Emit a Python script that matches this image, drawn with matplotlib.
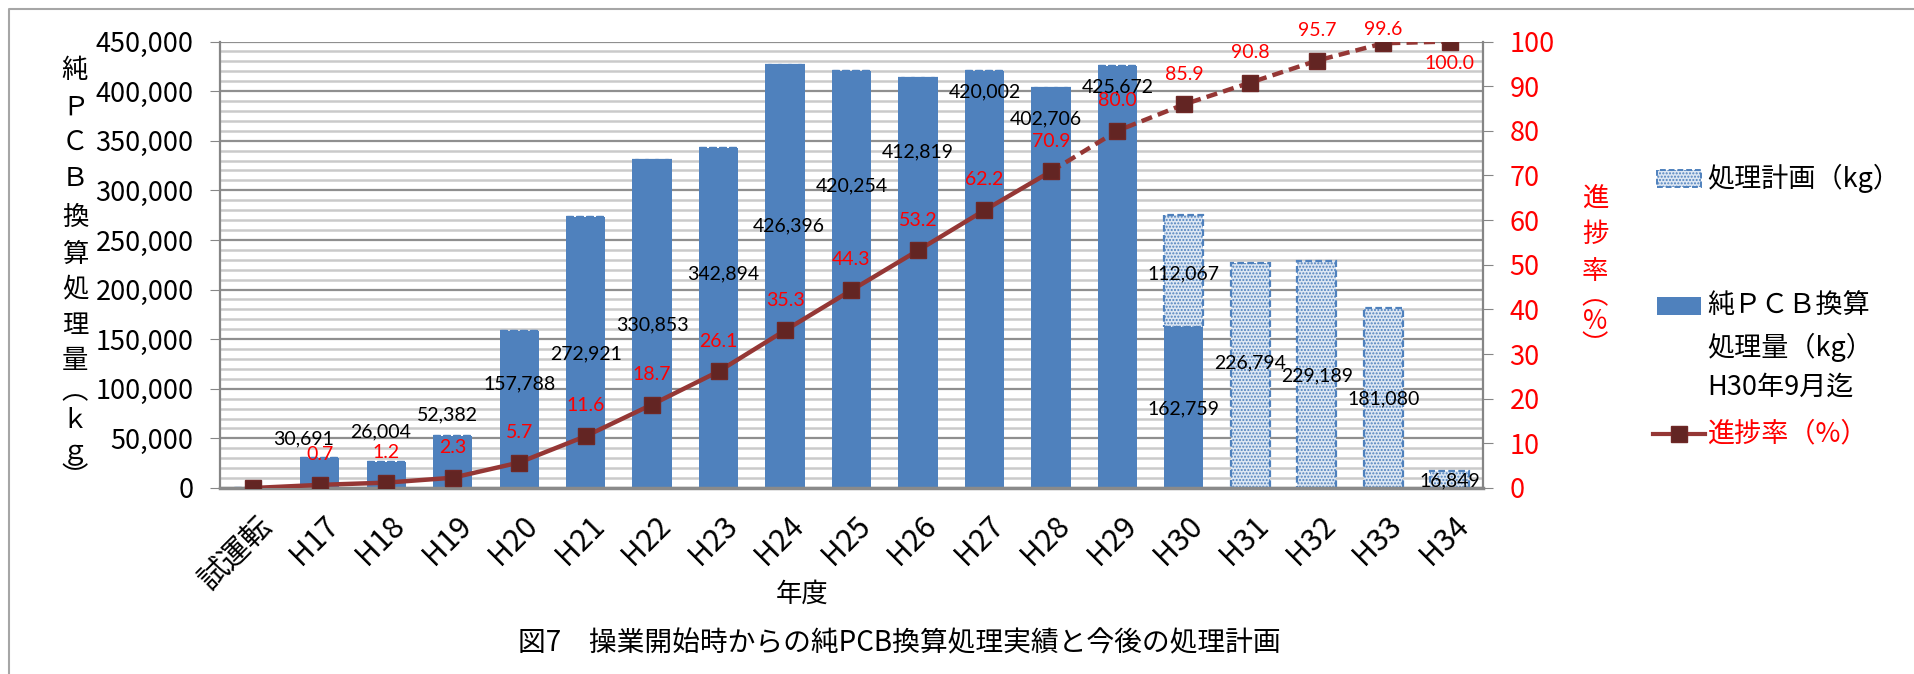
import numpy as np
import matplotlib
matplotlib.use("Agg")
import matplotlib.pyplot as plt
from matplotlib.patches import Rectangle
from matplotlib.lines import Line2D
from matplotlib.transforms import ScaledTranslation

plt.rcParams['font.family'] = ['Noto Sans CJK JP', 'DejaVu Sans']
plt.rcParams['hatch.linewidth'] = 1.0

# データ
cats = ["試運転", "H17", "H18", "H19", "H20", "H21", "H22", "H23", "H24", "H25",
        "H26", "H27", "H28", "H29", "H30", "H31", "H32", "H33", "H34"]
actual = [0, 30691, 26004, 52382, 157788, 272921, 330853, 342894, 426396, 420254,
          412819, 420002, 402706, 425672, 162759, 0, 0, 0, 0]
plan = [0, 0, 0, 0, 0, 0, 0, 0, 0, 0, 0, 0, 0, 0, 112067, 226794, 229189, 181080, 16849]
rate = [0, 0.7, 1.2, 2.3, 5.7, 11.6, 18.7, 26.1, 35.3, 44.3, 53.2, 62.2, 70.9, 80.0,
        85.9, 90.8, 95.7, 99.6, 100.0]

# ラベル位置（Excelの配置をまねる）
lbl_y = [None, 49500, 56500, 73700, 105000, 135000, 164500, 215600, 264000, 304600,
         339000, 399600, 371700, 404000, 80000, None, None, None, None]
lbl_dx = [0, -0.24, -0.08, -0.08, 0, 0, 0, 0.07, 0.06, 0, 0, 0, -0.07, 0, 0, 0, 0, 0, 0]
plan_lbl_y = [None] * 14 + [215600, 126000, 112500, 89700, 6700]

W, H = 1914, 674
fig = plt.figure(figsize=(W / 100, H / 100), dpi=100)

L, R, T, B = 220, 1483, 41.5, 488
ax = fig.add_axes([L / W, 1 - B / H, (R - L) / W, (B - T) / H])
ax2 = ax.twinx()

x = np.arange(len(cats))
blue = '#4f81bd'
ax.bar(x, actual, width=0.59, color=blue, zorder=2)
ax.bar(x, plan, bottom=actual, width=0.59, facecolor='#dde7f3', edgecolor=blue,
       hatch='.....', linestyle=(0, (3, 1.5)), linewidth=1.6, zorder=2)

ax.set_xlim(-0.5, len(cats) - 0.5)
ax.set_ylim(0, 450000)
ax.set_yticks(np.arange(0, 450001, 50000))
ax.set_yticks(np.arange(0, 450001, 10000), minor=True)
ax.set_yticklabels([f"{v:,}" for v in range(0, 450001, 50000)])
ax.grid(which='minor', axis='y', color='#cacaca', lw=1.8)
ax.grid(which='major', axis='y', color='#8f8f8f', lw=1.6)
ax.set_axisbelow(True)
ax.tick_params(axis='y', which='major', labelsize=19.5, length=7, color='#868686', pad=12)
ax.tick_params(axis='y', which='minor', length=0)
ax.set_xticks(x)
ax.set_xticklabels(cats, rotation=45, ha='right', va='center', rotation_mode='anchor')
ax.tick_params(axis='x', length=0, labelsize=21.5, pad=24)
shift = ScaledTranslation(14 / 100, 0, fig.dpi_scale_trans)
for lb in ax.get_xticklabels():
    lb.set_transform(lb.get_transform() + shift)

for s in ['top', 'right']:
    ax.spines[s].set_visible(False)
ax.spines['left'].set_color('#868686')
ax.spines['left'].set_linewidth(1.6)
ax.spines['bottom'].set_color('#8a8a8a')
ax.spines['bottom'].set_linewidth(2.5)

# 進捗率
line_c = '#953735'
ax2.plot(x[:13], rate[:13], color=line_c, lw=3.2, zorder=3)
ax2.plot(x[12:], rate[12:], color=line_c, lw=3.2, linestyle=(0, (2.5, 1.4)), zorder=3)
ax2.plot(x, rate, 's', ms=12, mfc='#632523', mec='#6e2826', zorder=4)
ax2.set_ylim(0, 100)
ax2.set_yticks(np.arange(0, 101, 10))
ax2.tick_params(axis='y', labelsize=19.5, labelcolor='#ff0000', length=7, color='#868686', pad=12)
for s in ['top', 'left', 'bottom']:
    ax2.spines[s].set_visible(False)
ax2.spines['right'].set_color('#868686')
ax2.spines['right'].set_linewidth(1.6)

# データラベル
for i in range(len(cats)):
    if lbl_y[i] is not None:
        ax.text(x[i] + lbl_dx[i], lbl_y[i], f"{actual[i]:,}", ha='center', va='center',
                fontsize=14, family=['Lato'], color='black', zorder=6)
    if plan_lbl_y[i] is not None:
        ax.text(x[i], plan_lbl_y[i], f"{plan[i]:,}", ha='center', va='center',
                fontsize=14, family=['Lato'], color='black', zorder=6)
for i in range(1, len(cats)):
    if i == len(cats) - 1:
        yy = rate[i] - 4.9
    elif i == len(cats) - 2:
        yy = 102.6
    else:
        yy = rate[i] + 6.8
    ax2.text(x[i], yy, f"{rate[i]:.1f}", ha='center', va='center', fontsize=14,
             family=['Lato'], color='#ff0000', zorder=6)

# 縦書きの軸ラベル
left_chars = ["純", "Ｐ", "Ｃ", "Ｂ", "換", "算", "処", "理", "量", "︵", "ｋ", "ｇ", "︶"]
left_y = [71, 107, 142, 178, 217, 254, 289, 326, 361, 392, 420, 453, 478]
for ch, yy in zip(left_chars, left_y):
    fig.text(75 / W, 1 - yy / H, ch, ha='center', va='center', fontsize=19)

right_chars = ["進", "捗", "率", "︵", "%", "︶"]
right_y = [198, 234, 271, 297, 322, 346]
for ch, yy in zip(right_chars, right_y):
    fig.text(1595 / W, 1 - yy / H, ch, ha='center', va='center', fontsize=19, color='#ff0000')

fig.text(802 / W, 1 - 594 / H, "年度", ha='center', va='center', fontsize=19)
fig.text(899 / W, 1 - 643 / H, "図7　操業開始時からの純PCB換算処理実績と今後の処理計画",
         ha='center', va='center', fontsize=20)

# 凡例
px0, px1 = 1657, 1701
fig.add_artist(Rectangle((px0 / W, 1 - 187 / H), (px1 - px0) / W, 17 / H, transform=fig.transFigure,
                         facecolor='#dde7f3', edgecolor=blue, hatch='.....', linestyle=(0, (3, 1.5)), lw=1.4))
fig.text(1707 / W, 1 - 178 / H, "処理計画（kg）", ha='left', va='center', fontsize=19.5)
fig.add_artist(Rectangle((px0 / W, 1 - 315 / H), (px1 - px0) / W, 18 / H, transform=fig.transFigure,
                         facecolor=blue, edgecolor='none'))
fig.text(1707 / W, 1 - 306 / H, "純ＰＣＢ換算", ha='left', va='center', fontsize=19.5)
fig.text(1707 / W, 1 - 347 / H, "処理量（kg）", ha='left', va='center', fontsize=19.5)
fig.text(1707 / W, 1 - 387 / H, "H30年9月迄", ha='left', va='center', fontsize=19.5)
fig.add_artist(Line2D([px0 / W - 0.002, px1 / W + 0.002], [1 - 434 / H, 1 - 434 / H], transform=fig.transFigure,
                      color=line_c, lw=3))
fig.add_artist(Line2D([(px0 + px1) / 2 / W], [1 - 434 / H], transform=fig.transFigure,
                      marker='s', ms=12, mfc='#632523', mec='#6e2826', linestyle='none'))
fig.text(1707 / W, 1 - 434 / H, "進捗率（%）", ha='left', va='center', fontsize=19.5, color='#ff0000')

# 外枠
fig.add_artist(Line2D([9 / W, 9 / W, 1.0], [0.0, 1 - 9 / H, 1 - 9 / H], transform=fig.transFigure,
                      color='#a6a6a6', lw=1.5))

fig.savefig("out.png", dpi=100)
